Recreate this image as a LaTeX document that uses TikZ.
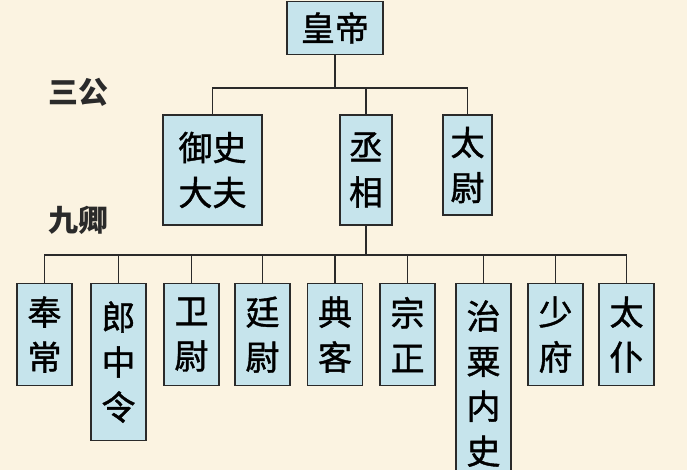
\documentclass[tikz,border=0pt]{standalone}
\usepackage{fontspec}
\newfontfamily\cjk{Noto Sans CJK SC}
\newfontfamily\cjkm[FakeBold=1.2]{Noto Sans CJK SC}
\definecolor{bg}{HTML}{FBF3E1}
\definecolor{bx}{HTML}{C6E4EC}
\definecolor{ln}{HTML}{2A2A2A}
\begin{document}
\begin{tikzpicture}[x=1pt,y=-1pt,
 bxs/.style={draw=ln,line width=1.2pt,fill=bx,inner sep=0pt,font=\cjkm\fontsize{34}{45}\selectfont,align=center},
 lbl/.style={font=\cjk\bfseries\fontsize{30}{36}\selectfont,text=ln},
 cn/.style={draw=ln,line width=1.2pt}]
\fill[bg] (0,0) rectangle (687,470);
\clip (0,0) rectangle (687,470);
\node[bxs,minimum width=96pt,minimum height=53pt] (hd) at (335,28) {皇帝};
\node[lbl] (sg) at (78,92) {三公};
\node[lbl] (jq) at (78,220) {九卿};
\node[bxs,minimum width=99pt,minimum height=110pt] (ys) at (212.5,170) {御史\\大夫};
\node[bxs,minimum width=52pt,minimum height=110pt] (cx) at (366,170) {丞\\相};
\node[bxs,minimum width=49pt,minimum height=100pt] (tw) at (467.5,165) {太\\尉};
\foreach \n/\x/\h/\t in {a/44.5/102/奉\\常, b/118.5/157/郎\\中\\令, c/191.5/102/卫\\尉, d/262.5/102/廷\\尉, e/335/102/典\\客, f/407.5/102/宗\\正, g/483.5/200/治\\粟\\内\\史, h/555.5/102/少\\府, i/626.5/102/太\\仆}
 \node[bxs,minimum width=55pt,minimum height=\h pt,anchor=north] (\n) at (\x,283) {\t};
\coordinate (j1) at (335,88);
\draw[cn] (hd.south) -- (j1);
\draw[cn] (ys.north) |- (j1) -| (tw.north);
\draw[cn] (j1) -| (cx.north);
\coordinate (j2) at (366,255);
\draw[cn] (cx.south) -- (j2);
\draw[cn] (a.north) |- (j2) -| (i.north);
\foreach \n in {b,c,d,e,f,g,h} \draw[cn] (\n.north) -- (\n.north |- j2);
\end{tikzpicture}
\end{document}
